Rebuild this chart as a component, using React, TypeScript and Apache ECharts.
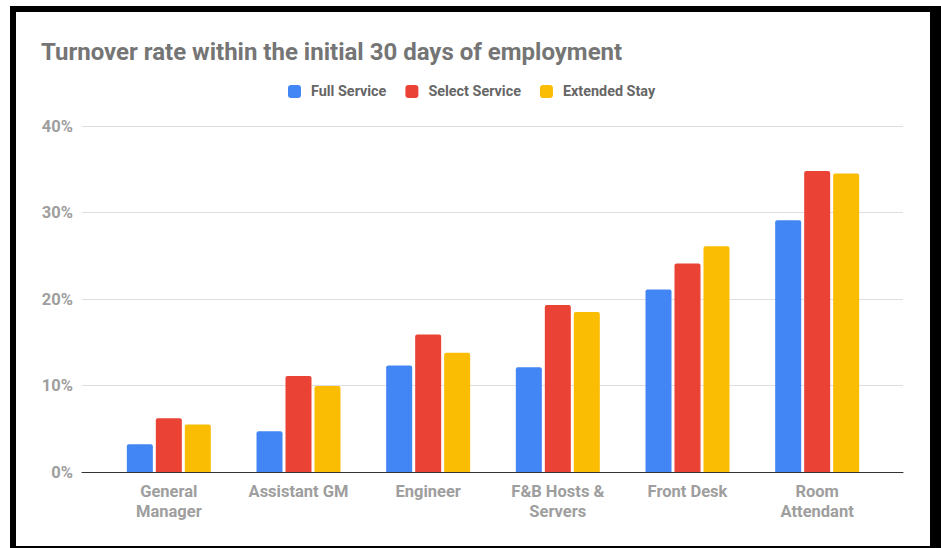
import React, { useEffect, useRef } from "react";
import * as echarts from "echarts";

const categories = [
  "General Manager",
  "Assistant GM",
  "Engineer",
  "F&B Hosts & Servers",
  "Front Desk",
  "Room Attendant",
];
const tickLabels = [
  "General\nManager",
  "Assistant GM",
  "Engineer",
  "F&B Hosts &\nServers",
  "Front Desk",
  "Room\nAttendant",
];
const seriesNames = ["Full Service", "Select Service", "Extended Stay"];
const fullService = [3.2, 4.7, 12.3, 12.1, 21.1, 29.1];
const selectService = [6.2, 11.1, 15.9, 19.3, 24.1, 34.8];
const extendedStay = [5.5, 9.95, 13.8, 18.5, 26.1, 34.5];
const colors = ["#4285F4", "#EA4335", "#FBBC04"];
const yTicks = [0, 10, 20, 30, 40];

export default function App() {
  const ref = useRef<HTMLDivElement>(null);
  useEffect(() => {
    if (!ref.current) return;
    const chart = echarts.init(ref.current, null, { renderer: "svg" });
    const font = "Roboto, Arial, sans-serif";
    const values = [fullService, selectService, extendedStay];
    chart.setOption({
      animation: false,
      backgroundColor: "#ffffff",
      title: {
        text: "Turnover rate within the initial 30 days of employment",
        left: 41,
        top: 39.5,
        padding: 0,
        textStyle: {
          fontFamily: font,
          fontWeight: "bold",
          fontSize: 24,
          color: "#757575",
        },
      },
      legend: {
        data: seriesNames,
        left: 288,
        top: 84.5,
        padding: 0,
        icon: "roundRect",
        itemWidth: 13,
        itemHeight: 13,
        itemGap: 19,
        textStyle: {
          fontFamily: font,
          fontWeight: "bold",
          fontSize: 14.4,
          color: "#666666",
          padding: [0, 0, 0, 5],
        },
      },
      grid: [
        { left: 82, right: 38, top: 126, bottom: 76, containLabel: false },
        { left: 104, right: 59, top: 126, bottom: 76, containLabel: false },
      ],
      xAxis: [
        {
          type: "category",
          gridIndex: 0,
          data: [""],
          axisLine: { show: true, lineStyle: { color: "#333333", width: 1 } },
          axisTick: { show: false },
          axisLabel: { show: false },
          splitLine: { show: false },
          z: 5,
        },
        {
          type: "category",
          gridIndex: 1,
          data: categories,
          axisLine: { show: false },
          axisTick: { show: false },
          axisLabel: {
            interval: 0,
            margin: 9,
            fontFamily: font,
            fontWeight: "bold",
            fontSize: 16.5,
            lineHeight: 20,
            color: "#9e9e9e",
            formatter: (_v: string, i: number) => tickLabels[i],
          },
        },
      ],
      yAxis: [
        {
          type: "value",
          gridIndex: 0,
          min: 0,
          max: 40,
          interval: 10,
          axisLine: { show: false },
          axisTick: { show: false },
          axisLabel: {
            margin: 9,
            fontFamily: font,
            fontWeight: "bold",
            fontSize: 16.5,
            color: "#9e9e9e",
            formatter: (v: number) => (yTicks.includes(v) ? v + "%" : ""),
          },
          splitLine: { show: true, lineStyle: { color: "#dedede", width: 1 } },
        },
        {
          type: "value",
          gridIndex: 1,
          min: 0,
          max: 40,
          interval: 10,
          show: false,
          splitLine: { show: false },
        },
      ],
      series: seriesNames.map((name, i) => ({
        name,
        type: "bar",
        xAxisIndex: 1,
        yAxisIndex: 1,
        data: values[i],
        barWidth: 26,
        barGap: "11.5%",
        itemStyle: { color: colors[i], borderRadius: [2, 2, 0, 0] },
      })),
      graphic: [
        { type: "rect", left: 10, top: 6, shape: { width: 6, height: 542 }, style: { fill: "#000" }, silent: true },
        { type: "rect", left: 10, top: 6, shape: { width: 931, height: 6 }, style: { fill: "#000" }, silent: true },
        { type: "rect", left: 930, top: 6, shape: { width: 11, height: 542 }, style: { fill: "#000" }, silent: true },
        { type: "rect", left: 10, top: 546, shape: { width: 931, height: 2 }, style: { fill: "#000" }, silent: true },
      ],
    });
    return () => chart.dispose();
  }, []);
  return (
    <div
      ref={ref}
      style={{ position: "absolute", left: 0, top: 0, width: 941, height: 548 }}
    />
  );
}
